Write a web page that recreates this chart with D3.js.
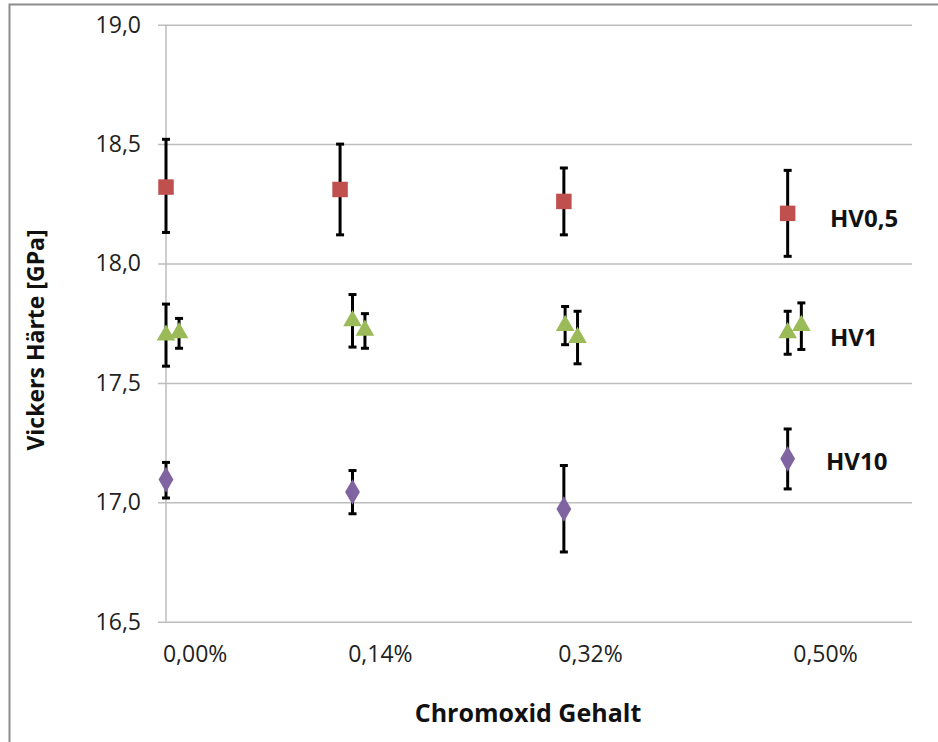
<!DOCTYPE html>
<html>
<head>
<meta charset="utf-8">
<script src="https://cdn.jsdelivr.net/npm/d3@7"></script>
<style>
  body { margin: 0; background: #fff; }
  svg { display: block; font-family: "Open Sans", sans-serif; }
  .grid line { stroke: #bdbdbd; stroke-width: 1.5; }
  .grid path { display: none; }
</style>
</head>
<body>
<svg id="chart"></svg>
<script>
var width = 938;
var height = 742;
var margin = { top: 24.7, right: 26, bottom: 120.3, left: 166 };

// y axis ticks
var yTicks = [16.5, 17.0, 17.5, 18.0, 18.5, 19.0];
// x axis text labels and where they sit (Chromoxid fraction, %)
var xLabels = ['0,00%', '0,14%', '0,32%', '0,50%'];
var xLabelAt = [0.023, 0.172, 0.341, 0.530];

// HV0,5
var hv05X   = [0, 0.14, 0.32, 0.50];
var hv05Y   = [18.32, 18.31, 18.26, 18.21];
var hv05Lo  = [18.13, 18.12, 18.12, 18.03];
var hv05Hi  = [18.52, 18.50, 18.40, 18.39];

// HV1 (two measurement series side by side)
var hv1aX   = [0, 0.150, 0.321, 0.500];
var hv1aY   = [17.70, 17.76, 17.74, 17.71];
var hv1aLo  = [17.57, 17.65, 17.66, 17.62];
var hv1aHi  = [17.83, 17.87, 17.82, 17.80];

var hv1bX   = [0.0105, 0.160, 0.331, 0.511];
var hv1bY   = [17.71, 17.72, 17.69, 17.74];
var hv1bLo  = [17.645, 17.645, 17.58, 17.64];
var hv1bHi  = [17.77, 17.79, 17.80, 17.835];

// HV10
var hv10X   = [0, 0.150, 0.32, 0.50];
var hv10Y   = [17.095, 17.043, 16.972, 17.182];
var hv10Lo  = [17.018, 16.952, 16.792, 17.056];
var hv10Hi  = [17.167, 17.133, 17.154, 17.307];

var seriesLabels = ['HV0,5', 'HV1', 'HV10'];
var seriesLabelY = [18.20, 17.70, 17.18];

function rows(xs, ys, lo, hi) {
  return xs.map(function(x, i) {
    return { x: x, y: ys[i], lo: lo[i], hi: hi[i] };
  });
}

var series = [
  { data: rows(hv05X, hv05Y, hv05Lo, hv05Hi), symbol: d3.symbolSquare, size: 240, color: '#c0504d' },
  { data: rows(hv1aX, hv1aY, hv1aLo, hv1aHi), symbol: d3.symbolTriangle, size: 150, color: '#9bbb59' },
  { data: rows(hv1bX, hv1bY, hv1bLo, hv1bHi), symbol: d3.symbolTriangle, size: 150, color: '#9bbb59' },
  { data: rows(hv10X, hv10Y, hv10Lo, hv10Hi), symbol: d3.symbolDiamond, size: 190, color: '#8064a2' }
];

var svg = d3.select('#chart')
    .attr('width', width)
    .attr('height', height);

// outer frame (top and left edges visible)
svg.append('path')
    .attr('d', 'M9.5,' + height + 'V4.5H' + width)
    .attr('fill', 'none')
    .attr('stroke', '#8c8c8c')
    .attr('stroke-width', 2);

var plotW = width - margin.left - margin.right;
var plotH = height - margin.top - margin.bottom;

var x = d3.scaleLinear()
    .domain([0, 0.6])
    .range([margin.left, margin.left + plotW]);

var y = d3.scaleLinear()
    .domain([16.5, 19.0])
    .range([margin.top + plotH, margin.top]);

// horizontal gridlines + y ticks
svg.append('g')
    .attr('class', 'grid')
    .attr('transform', 'translate(' + margin.left + ',0)')
    .call(d3.axisLeft(y)
      .tickValues(yTicks)
      .tickSize(-plotW)
      .tickFormat(''))
  .selectAll('.tick line')
    .attr('x1', -8);

svg.append('g')
    .attr('transform', 'translate(' + (margin.left - 25) + ',0)')
    .call(d3.axisLeft(y)
      .tickValues(yTicks)
      .tickSize(0)
      .tickFormat(function(d) { return d3.format('.1f')(d).replace('.', ','); }))
    .call(function(g) {
      g.select('.domain').remove();
      g.selectAll('text')
        .attr('x', 0)
        .attr('font-size', 23)
        .attr('font-family', '"Open Sans", sans-serif')
        .attr('fill', '#222');
    });

// vertical axis line
svg.append('line')
    .attr('x1', x(0)).attr('x2', x(0))
    .attr('y1', y(19.0)).attr('y2', y(16.5))
    .attr('stroke', '#bdbdbd')
    .attr('stroke-width', 1.5);

// x labels
svg.append('g')
    .attr('transform', 'translate(0,' + (y(16.5) + 21) + ')')
    .call(d3.axisBottom(x)
      .tickValues(xLabelAt)
      .tickSize(0)
      .tickFormat(function(d, i) { return xLabels[i]; }))
    .call(function(g) {
      g.select('.domain').remove();
      g.selectAll('text')
        .attr('font-size', 23)
        .attr('font-family', '"Open Sans", sans-serif')
        .attr('fill', '#222');
    });

// axis titles
svg.append('text')
    .attr('x', 528)
    .attr('y', 722)
    .attr('text-anchor', 'middle')
    .attr('font-size', 25)
    .attr('font-weight', 'bold')
    .attr('fill', '#111')
    .text('Chromoxid Gehalt');

svg.append('text')
    .attr('transform', 'rotate(-90)')
    .attr('x', -340)
    .attr('y', 44)
    .attr('text-anchor', 'middle')
    .attr('font-size', 23)
    .attr('font-weight', 'bold')
    .attr('fill', '#111')
    .text('Vickers Härte [GPa]');

// error bars
series.forEach(function(s) {
  var g = svg.append('g')
      .attr('stroke', '#000')
      .attr('stroke-width', 3);
  g.selectAll('.bar')
    .data(s.data)
    .enter()
    .append('line')
      .attr('x1', function(d) { return x(d.x); })
      .attr('x2', function(d) { return x(d.x); })
      .attr('y1', function(d) { return y(d.lo); })
      .attr('y2', function(d) { return y(d.hi); });
  ['lo', 'hi'].forEach(function(k) {
    g.selectAll('.cap-' + k)
      .data(s.data)
      .enter()
      .append('line')
        .attr('x1', function(d) { return x(d.x) - 4; })
        .attr('x2', function(d) { return x(d.x) + 4; })
        .attr('y1', function(d) { return y(d[k]); })
        .attr('y2', function(d) { return y(d[k]); });
  });
});

// markers
series.forEach(function(s) {
  svg.append('g')
    .selectAll('path')
    .data(s.data)
    .enter()
    .append('path')
      .attr('d', d3.symbol().type(s.symbol).size(s.size))
      .attr('transform', function(d) {
        return 'translate(' + x(d.x) + ',' + y(d.y) + ')';
      })
      .attr('fill', s.color);
});

// series labels
svg.append('g')
  .selectAll('text')
  .data(seriesLabels)
  .enter()
  .append('text')
    .attr('x', function(d, i) { return i === 2 ? 826 : 830; })
    .attr('y', function(d, i) { return y(seriesLabelY[i]); })
    .attr('dy', '0.45em')
    .attr('font-size', 24)
    .attr('font-weight', 'bold')
    .attr('fill', '#111')
    .text(function(d) { return d; });
</script>
</body>
</html>
